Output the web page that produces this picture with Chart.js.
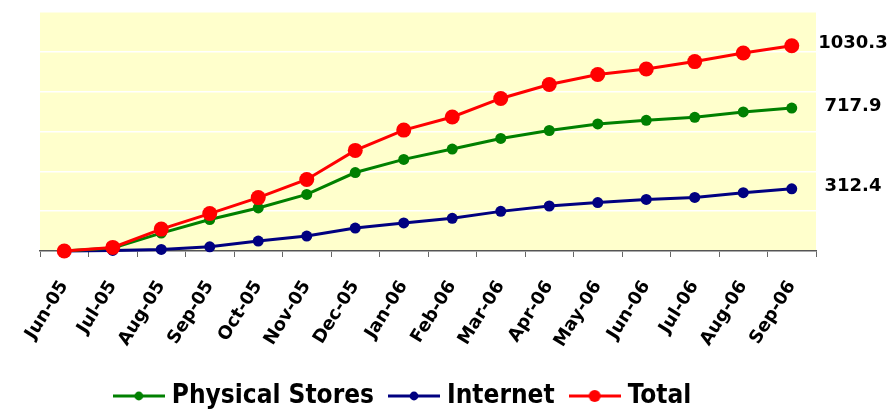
<!DOCTYPE html>
<html>
<head>
<meta charset="utf-8">
<script src="https://cdn.jsdelivr.net/npm/chart.js@4"></script>
<style>
  html, body { margin: 0; padding: 0; background: #fff; }
  #wrap { width: 893px; height: 409px; }
</style>
</head>
<body>
<div id="wrap"><canvas id="myChart" width="893" height="409"></canvas></div>
<script>
let months = ['Jun-05', 'Jul-05', 'Aug-05', 'Sep-05', 'Oct-05', 'Nov-05', 'Dec-05', 'Jan-06',
              'Feb-06', 'Mar-06', 'Apr-06', 'May-06', 'Jun-06', 'Jul-06', 'Aug-06', 'Sep-06'];
let physicalStores = [0, 15, 90, 158, 216, 284, 394, 460, 512, 565, 605, 638, 656, 671, 698, 717.9];
let internet = [0, 3, 8, 21, 50, 75, 115, 141, 164, 199, 226, 243, 259, 269, 293, 312.4];
let total = [0, 18, 110, 188, 268, 359, 505, 607, 673, 766, 836, 886, 914, 951, 994, 1030.3];
let endLabels = ['717.9', '312.4', '1030.3'];

let ctx = document.getElementById("myChart").getContext('2d');

// small line + dot marker used in the legend
function legendMarker(color, radius) {
    let c = document.createElement('canvas');
    c.width = 52;
    c.height = 16;
    let g = c.getContext('2d');
    g.strokeStyle = color;
    g.lineWidth = 3;
    g.beginPath();
    g.moveTo(0, 8);
    g.lineTo(52, 8);
    g.stroke();
    g.fillStyle = color;
    g.beginPath();
    g.arc(26, 8, radius, 0, Math.PI * 2);
    g.fill();
    return c;
}

const plotBackground = {
    id: 'plotBackground',
    beforeDraw(chart) {
        let a = chart.chartArea;
        let c = chart.ctx;
        c.save();
        c.fillStyle = '#FFFFCC';
        c.fillRect(a.left, a.top, a.right - a.left, a.bottom - a.top);
        c.restore();
    }
};

// legend in the original sits a bit left of the plot centre
const legendShift = {
    id: 'legendShift',
    afterLayout(chart) {
        if (chart.legend) {
            chart.legend.right -= 46;
        }
    }
};

const lastValueLabels = {
    id: 'lastValueLabels',
    afterDatasetsDraw(chart) {
        let c = chart.ctx;
        c.save();
        c.font = 'bold 18px "DejaVu Sans", Verdana, sans-serif';
        c.fillStyle = '#000';
        c.textAlign = 'center';
        c.textBaseline = 'middle';
        chart.data.datasets.forEach((ds, i) => {
            let meta = chart.getDatasetMeta(i);
            let pt = meta.data[meta.data.length - 1];
            c.fillText(endLabels[i], chart.chartArea.right + 37, pt.y - 2);
        });
        c.restore();
    }
};

let myChart = new Chart(ctx, {
    type: 'line',
    data: {
        labels: months,
        datasets: [{
            label: 'Physical Stores',
            data: physicalStores,
            borderColor: '#008000',
            backgroundColor: '#008000',
            pointBackgroundColor: '#008000',
            borderWidth: 3,
            pointRadius: 5.5,
            pointBorderWidth: 0,
            order: 1,
            tension: 0,
            clip: false
        }, {
            label: 'Internet',
            data: internet,
            borderColor: '#000080',
            backgroundColor: '#000080',
            pointBackgroundColor: '#000080',
            borderWidth: 3,
            pointRadius: 5.5,
            pointBorderWidth: 0,
            order: 2,
            tension: 0,
            clip: false
        }, {
            label: 'Total',
            data: total,
            borderColor: '#FF0000',
            backgroundColor: '#FF0000',
            pointBackgroundColor: '#FF0000',
            borderWidth: 3,
            pointRadius: 7.5,
            pointBorderWidth: 0,
            order: 0,
            tension: 0,
            clip: false
        }]
    },
    options: {
        responsive: false,
        animation: false,
        maintainAspectRatio: false,
        layout: {
            padding: { left: 40, right: 77, top: 12, bottom: -10 }
        },
        scales: {
            x: {
                offset: true,
                grid: {
                    offset: true,
                    drawOnChartArea: false,
                    color: '#666',
                    tickLength: 6
                },
                border: { color: '#555', width: 1.5 },
                ticks: {
                    color: '#000',
                    autoSkip: false,
                    maxRotation: 58,
                    minRotation: 58,
                    padding: 20,
                    font: { family: '"DejaVu Sans", Verdana, sans-serif', size: 18, weight: 'bold' }
                },
                afterFit(scale) {
                    scale.height = 112;
                }
            },
            y: {
                min: 0,
                max: 1200,
                ticks: { stepSize: 200, display: false },
                grid: { color: '#FFFFFF', lineWidth: 1.5, drawTicks: false },
                border: { display: false }
            }
        },
        plugins: {
            tooltip: { enabled: false },
            legend: {
                position: 'bottom',
                labels: {
                    usePointStyle: true,
                    pointStyleWidth: 40,
                    padding: 20,
                    color: '#000',
                    font: { family: '"DejaVu Sans Condensed", "DejaVu Sans", sans-serif', size: 26, weight: 'bold' },
                    generateLabels: chart => chart.data.datasets.map((ds, i) => ({
                        text: ds.label,
                        pointStyle: legendMarker(ds.borderColor, ds.pointRadius * 0.8),
                        fillStyle: ds.borderColor,
                        strokeStyle: ds.borderColor,
                        lineWidth: 0,
                        hidden: false,
                        fontColor: '#000',
                        datasetIndex: i
                    }))
                }
            }
        }
    },
    plugins: [plotBackground, legendShift, lastValueLabels]
});
</script>
</body>
</html>
